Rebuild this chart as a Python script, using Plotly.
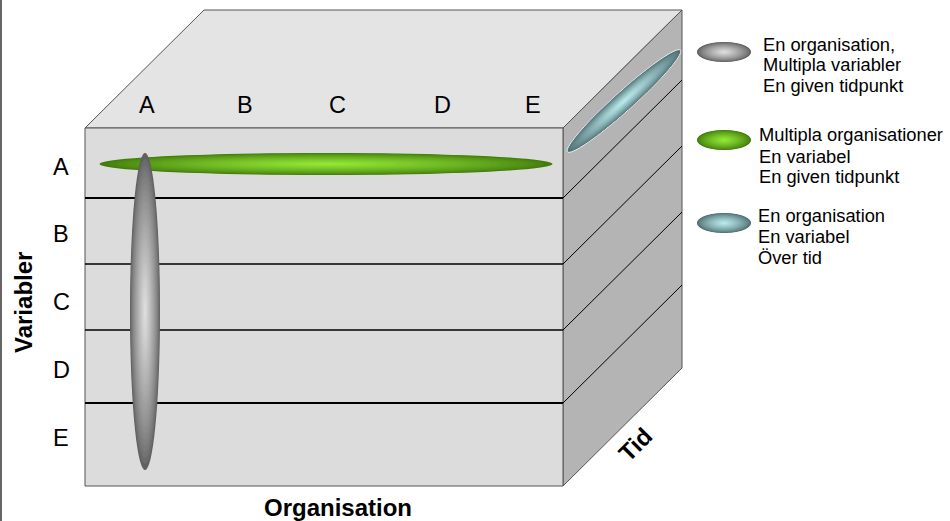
import numpy as np
import plotly.graph_objects as go

# ---------------- data (text content) ----------------
organisations = ["A", "B", "C", "D", "E"]
variables = ["A", "B", "C", "D", "E"]
x_title = "Organisation"
y_title = "Variabler"
z_title = "Tid"
legend_texts = [
    ["En organisation,", "Multipla variabler", "En given tidpunkt"],
    ["Multipla organisationer", "En variabel", "En given tidpunkt"],
    ["En organisation", "En variabel", "Över tid"],
]

# ---------------- layout geometry (pixels) ----------------
W, H = 950, 521
FX0, FX1, FY0, FY1 = 85, 563, 128, 486     # front face
DX, DY = 119, -118                          # depth offset
org_x = [147, 245, 337, 442, 533]
org_label_y = 105
var_y = [167, 234, 302, 370, 438]
var_label_x = 61
row_lines_y = [198, 264, 330, 403]
row_line_w = [2.2, 1.3, 1.6, 2.2]
FONT = "Liberation Sans, Arial, sans-serif"

fig = go.Figure()
fig.add_trace(go.Scatter(x=[0, W], y=[0, H], mode="markers",
                         marker=dict(opacity=0), hoverinfo="skip"))

shapes = []


def poly(pts, fill, line="#555555", lw=1):
    d = "M " + " L ".join(f"{x},{y}" for x, y in pts) + " Z"
    shapes.append(dict(type="path", path=d, xref="x", yref="y",
                       fillcolor=fill, line=dict(color=line, width=lw)))


def seg(x0, y0, x1, y1, color="black", lw=1):
    shapes.append(dict(type="line", x0=x0, y0=y0, x1=x1, y1=y1,
                       xref="x", yref="y", line=dict(color=color, width=lw)))


def ellipse_pts(cx, cy, a, b, ang_deg, n=90):
    t = np.linspace(0, 2 * np.pi, n, endpoint=False)
    ang = np.deg2rad(ang_deg)
    ux, uy = np.cos(ang), -np.sin(ang)
    vx, vy = np.sin(ang), np.cos(ang)
    xs = cx + a * np.cos(t) * ux + b * np.sin(t) * vx
    ys = cy + a * np.cos(t) * uy + b * np.sin(t) * vy
    return list(zip(np.round(xs, 2), np.round(ys, 2)))


def grad_ellipse(cx, cy, a, b, ang, edge, center, outline=None, n=26):
    for i in range(n):
        s = 1 - 0.96 * i / (n - 1)
        t = (1 - s) ** 0.75
        c = [int(round(e + (m - e) * t)) for e, m in zip(edge, center)]
        pts = ellipse_pts(cx, cy, a * s, b * s, ang)
        d = "M " + " L ".join(f"{x},{y}" for x, y in pts) + " Z"
        ln = dict(width=0)
        if i == 0 and outline:
            ln = dict(color=outline, width=1)
        shapes.append(dict(type="path", path=d, xref="x", yref="y",
                           fillcolor=f"rgb({c[0]},{c[1]},{c[2]})", line=ln))


# frame line on the left edge
seg(1, 0, 1, H, color="#666666", lw=2)

# cube faces
poly([(FX0, FY0), (FX0 + DX, FY0 + DY), (FX1 + DX, FY0 + DY), (FX1, FY0)], "#e4e4e4")
poly([(FX1, FY0), (FX1 + DX, FY0 + DY), (FX1 + DX, FY1 + DY), (FX1, FY1)], "#b4b4b4")
poly([(FX0, FY0), (FX1, FY0), (FX1, FY1), (FX0, FY1)], "#dcdcdc")

# row separators on front and side
for y, w in zip(row_lines_y, row_line_w):
    seg(FX0, y, FX1, y, lw=w)
    seg(FX1, y, FX1 + DX, y + DY, lw=1)

# ellipses in cube
GREY = ((96, 96, 96), (226, 226, 226))
GREEN = ((66, 124, 12), (150, 236, 56))
TEAL = ((78, 110, 114), (190, 238, 240))
grad_ellipse(326, 164, 226.5, 11, 0, *GREEN)
grad_ellipse(145, 311.5, 15, 158.5, 0, *GREY)
grad_ellipse(624, 101, 76, 9.5, 42, *TEAL, outline="#f0f0f0")

# legend ellipses
legend_cy = [52, 140, 223]
legend_styles = [GREY, GREEN, TEAL]
for cy, st in zip(legend_cy, legend_styles):
    grad_ellipse(724, cy, 27, 10, 0, *st)

fig.update_layout(shapes=shapes)

ann = []
for lab, x in zip(organisations, org_x):
    ann.append(dict(x=x, y=org_label_y, text=lab, font=dict(size=23.5)))
for lab, y in zip(variables, var_y):
    ann.append(dict(x=var_label_x, y=y, text=lab, font=dict(size=23.5)))
ann.append(dict(x=338, y=507, text=f"<b>{x_title}</b>", font=dict(size=24)))
ann.append(dict(x=23, y=303, text=f"<b>{y_title}</b>", font=dict(size=24), textangle=-90))
ann.append(dict(x=635, y=444, text=f"<b>{z_title}</b>", font=dict(size=24), textangle=-45))

legend_x = [761, 757, 756]
legend_line_y = [[44, 64, 85], [134, 156, 176], [215, 236, 257]]
for lines, lx, ys in zip(legend_texts, legend_x, legend_line_y):
    for txt, ly in zip(lines, ys):
        ann.append(dict(x=lx, y=ly, text=txt, xanchor="left", font=dict(size=18.3)))

for a in ann:
    a.setdefault("xanchor", "center")
    a.update(xref="x", yref="y", yanchor="middle", showarrow=False)
    a["font"].update(family=FONT, color="black")

fig.update_layout(
    annotations=ann,
    width=W, height=H,
    margin=dict(l=0, r=0, t=0, b=0),
    paper_bgcolor="white", plot_bgcolor="white",
    xaxis=dict(range=[0, W], visible=False, fixedrange=True),
    yaxis=dict(range=[H, 0], visible=False, fixedrange=True),
    showlegend=False,
)

fig.write_html(
    "out.html",
    config={"displayModeBar": False},
    post_script="document.body.style.margin='0';document.body.style.overflow='hidden';",
)
